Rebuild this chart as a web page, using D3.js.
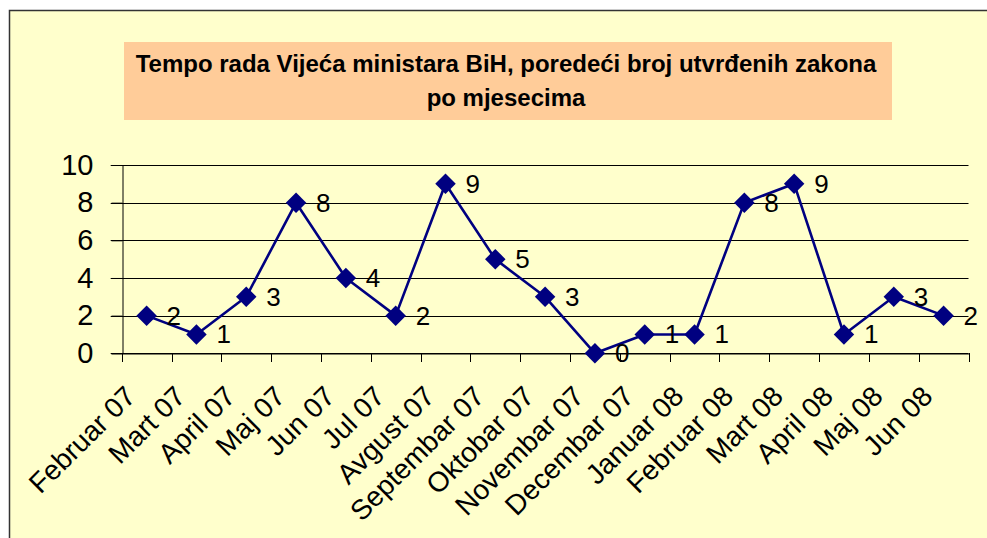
<!DOCTYPE html>
<html>
<head>
<meta charset="utf-8">
<script src="https://cdn.jsdelivr.net/npm/d3@7"></script>
<style>
  html, body { margin: 0; padding: 0; background: #fff; }
  svg { display: block; font-family: Arial, "Liberation Sans", sans-serif; }
</style>
</head>
<body>
<div id="chart"></div>
<script>
const months = ["Februar 07", "Mart 07", "April 07", "Maj 07", "Jun 07", "Jul 07", "Avgust 07",
    "Septembar 07", "Oktobar 07", "Novembar 07", "Decembar 07", "Januar 08", "Februar 08",
    "Mart 08", "April 08", "Maj 08", "Jun 08"];
const zakoni = [2, 1, 3, 8, 4, 2, 9, 5, 3, 0, 1, 1, 8, 9, 1, 3, 2];
const yTicks = [0, 2, 4, 6, 8, 10];
const titleLines = ["Tempo rada Vijeća ministara BiH, poredeći broj utvrđenih zakona", "po mjesecima"];

const W = 987, H = 538;
const svg = d3.select("#chart").append("svg")
    .attr("width", W)
    .attr("height", H);

// chart frame
svg.append("rect")
    .attr("x", 9.5).attr("y", 10.5)
    .attr("width", W + 20).attr("height", H + 20)
    .attr("fill", "#ffffcc")
    .attr("stroke", "#333")
    .attr("stroke-width", 1.5);

// title box
svg.append("rect")
    .attr("x", 124).attr("y", 42)
    .attr("width", 768).attr("height", 78)
    .attr("fill", "#ffcc99");

svg.append("g")
    .selectAll("text")
    .data(titleLines)
    .enter()
    .append("text")
    .attr("x", 506)
    .attr("y", (d, i) => 72 + i * 34)
    .attr("text-anchor", "middle")
    .attr("font-size", 24)
    .attr("font-weight", "bold")
    .text(d => d);

const margin = { left: 121.7, right: 968.5, top: 165, bottom: 353.3 };

const x = d3.scaleBand()
    .domain(months)
    .range([margin.left, margin.right]);

const y = d3.scaleLinear()
    .domain([0, 10])
    .range([margin.bottom, margin.top]);

// gridlines
svg.append("g")
    .selectAll("line")
    .data(yTicks)
    .enter()
    .append("line")
    .attr("x1", margin.left - 11)
    .attr("x2", margin.right)
    .attr("y1", d => Math.round(y(d)) + 0.5)
    .attr("y2", d => Math.round(y(d)) + 0.5)
    .attr("stroke", "#000");

// y axis
const yAxis = svg.append("g")
    .attr("transform", `translate(${Math.round(margin.left) + 0.5},0)`)
    .call(d3.axisLeft(y).tickValues(yTicks).tickSize(11).tickPadding(18));
yAxis.select(".domain").attr("stroke", "#000");
yAxis.selectAll("text")
    .attr("font-size", 29)
    .attr("font-family", "Arial, 'Liberation Sans', sans-serif")
    .attr("fill", "#000");

// x axis
const xAxis = svg.append("g")
    .attr("transform", `translate(0,${Math.round(margin.bottom) + 0.5})`)
    .call(d3.axisBottom(x).tickSize(0).tickFormat(""));
xAxis.select(".domain").attr("stroke", "#000");

// category boundary ticks
svg.append("g")
    .selectAll("line")
    .data(months.concat(["end"]))
    .enter()
    .append("line")
    .attr("x1", (d, i) => Math.round(i < months.length ? x(d) : margin.right) + 0.5)
    .attr("x2", (d, i) => Math.round(i < months.length ? x(d) : margin.right) + 0.5)
    .attr("y1", Math.round(margin.bottom))
    .attr("y2", Math.round(margin.bottom) + 9)
    .attr("stroke", "#000");

// rotated month labels
svg.append("g")
    .selectAll("text")
    .data(months)
    .enter()
    .append("text")
    .attr("transform", d => `translate(${x(d) + x.bandwidth() / 2 - 16},${margin.bottom + 38}) rotate(-45)`)
    .attr("text-anchor", "end")
    .attr("dominant-baseline", "central")
    .attr("font-size", 28)
    .text(d => d);

// line
const cx = d => x(d) + x.bandwidth() / 2;
svg.append("path")
    .datum(zakoni)
    .attr("fill", "none")
    .attr("stroke", "#000080")
    .attr("stroke-width", 2.6)
    .attr("stroke-linejoin", "round")
    .attr("d", d3.line().x((d, i) => cx(months[i])).y(d => y(d)));

// markers
svg.append("g")
    .selectAll("path")
    .data(zakoni)
    .enter()
    .append("path")
    .attr("transform", (d, i) => `translate(${cx(months[i])},${y(d)}) rotate(45)`)
    .attr("d", d3.symbol(d3.symbolSquare, 210))
    .attr("fill", "#000080");

// data labels
svg.append("g")
    .selectAll("text")
    .data(zakoni)
    .enter()
    .append("text")
    .attr("x", (d, i) => cx(months[i]) + 20)
    .attr("y", d => y(d))
    .attr("dominant-baseline", "central")
    .attr("font-size", 26)
    .text(d => d);
</script>
</body>
</html>
